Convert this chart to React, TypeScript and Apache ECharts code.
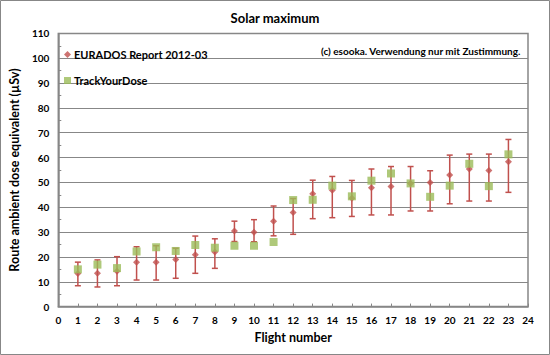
import React, { useEffect, useRef } from "react";
import * as echarts from "echarts";

const flights = [1, 2, 3, 4, 5, 6, 7, 8, 9, 10, 11, 12, 13, 14, 15, 16, 17, 18, 19, 20, 21, 22, 23];
const eurados = [13.3, 13.4, 14.2, 17.9, 17.9, 19.0, 20.9, 22.0, 30.4, 29.9, 34.4, 37.9, 45.4, 46.8, 43.6, 47.9, 48.4, 49.6, 50.0, 53.0, 55.4, 54.8, 58.3];
const euradosLow = [8.4, 7.9, 8.4, 10.7, 10.7, 11.4, 13.4, 15.4, 26.2, 26.1, 28.5, 29.1, 35.4, 35.8, 36.3, 36.9, 36.9, 38.5, 38.5, 41.4, 42.5, 42.5, 46.0];
const euradosHigh = [17.9, 18.8, 20.1, 24.1, 24.5, 23.5, 28.4, 27.3, 34.4, 35.0, 40.5, 43.5, 50.9, 52.4, 50.8, 55.4, 56.4, 56.4, 54.7, 61.0, 61.4, 61.4, 67.3];
const trackYourDose = [15.0, 16.9, 15.5, 22.2, 23.9, 22.4, 24.8, 23.7, 24.5, 24.5, 26.0, 42.9, 43.0, 48.7, 44.4, 50.7, 53.6, 49.6, 44.2, 48.7, 57.5, 48.5, 61.3];

const RED = "#C0504D";
const GREEN = "#9BBB59";
const GREY = "#878787";
const FONT = "Lato";

export default function App() {
  const ref = useRef<HTMLDivElement>(null);
  useEffect(() => {
    if (!ref.current) return;
    const chart = echarts.init(ref.current, null, { renderer: "svg" });
    const errData = flights.map((f, i) => [f, euradosLow[i], euradosHigh[i]]);
    chart.setOption({
      animation: false,
      backgroundColor: "#fff",
      textStyle: { fontFamily: FONT },
      title: {
        text: "Solar maximum",
        left: "center",
        top: 6,
        textStyle: { fontFamily: FONT, fontSize: 13, fontWeight: "bold", color: "#000" },
      },
      legend: {
        orient: "vertical",
        left: 59,
        top: 44,
        itemGap: 15,
        itemWidth: 7,
        itemHeight: 7,
        data: [
          { name: "EURADOS Report 2012-03", icon: "diamond" },
          { name: "TrackYourDose", icon: "rect" },
        ],
        textStyle: { fontFamily: FONT, fontSize: 11, fontWeight: "bold", color: "#000", padding: [0, 0, 0, -2] },
      },
      graphic: [
        {
          type: "rect",
          shape: { x: 0.5, y: 0.5, width: 549, height: 354 },
          style: { fill: "none", stroke: GREY, lineWidth: 1 },
          silent: true,
        },
        {
          type: "text",
          right: 29,
          top: 46,
          style: {
            text: "(c) esooka. Verwendung nur mit Zustimmung.",
            fontFamily: FONT,
            fontSize: 10,
            fontWeight: "bold",
            fill: "#000",
          },
        },
      ],
      grid: { left: 53, right: 22, top: 33.4, bottom: 48.4, show: true, borderColor: GREY, borderWidth: 1.5 },
      xAxis: {
        type: "value",
        min: 0,
        max: 24,
        interval: 1,
        name: "Flight number",
        nameLocation: "middle",
        nameGap: 24,
        nameTextStyle: { fontFamily: FONT, fontSize: 12.5, fontWeight: "bold", color: "#000" },
        axisLine: { lineStyle: { color: GREY, width: 1.5 } },
        axisTick: { inside: true, length: 3, lineStyle: { color: GREY } },
        axisLabel: { fontFamily: FONT, fontSize: 10, fontWeight: "bold", color: "#000", margin: 8 },
        splitLine: { show: false },
      },
      yAxis: {
        type: "value",
        min: 0,
        max: 110,
        interval: 10,
        name: "Route ambient dose equivalent (µSv)",
        nameLocation: "middle",
        nameGap: 31,
        nameTextStyle: { fontFamily: FONT, fontSize: 12.5, fontWeight: "bold", color: "#000" },
        axisLine: { show: true, lineStyle: { color: GREY, width: 1.5 } },
        axisTick: { show: true, inside: true, length: 3, lineStyle: { color: GREY } },
        minorTick: { show: true, splitNumber: 2, length: 3, lineStyle: { color: GREY } },
        axisLabel: { fontFamily: FONT, fontSize: 10, fontWeight: "bold", color: "#000", margin: 9 },
        splitLine: { show: true, lineStyle: { color: GREY, width: 1.2 } },
      },
      series: [
        {
          type: "custom",
          name: "err",
          data: errData,
          encode: { x: 0, y: [1, 2] },
          z: 1,
          renderItem: (params: any, api: any) => {
            const x = api.value(0);
            const p1 = api.coord([x, api.value(1)]);
            const p2 = api.coord([x, api.value(2)]);
            const w = 3;
            const st = { stroke: RED, lineWidth: 1.5 };
            return {
              type: "group",
              children: [
                { type: "line", shape: { x1: p1[0], y1: p1[1], x2: p2[0], y2: p2[1] }, style: st },
                { type: "line", shape: { x1: p1[0] - w, y1: p1[1], x2: p1[0] + w, y2: p1[1] }, style: st },
                { type: "line", shape: { x1: p2[0] - w, y1: p2[1], x2: p2[0] + w, y2: p2[1] }, style: st },
              ],
            };
          },
        },
        {
          type: "scatter",
          name: "EURADOS Report 2012-03",
          data: flights.map((f, i) => [f, eurados[i]]),
          symbol: "diamond",
          symbolSize: 7,
          itemStyle: { color: RED },
          z: 2,
        },
        {
          type: "scatter",
          name: "TrackYourDose",
          data: flights.map((f, i) => [f, trackYourDose[i]]),
          symbol: "rect",
          symbolSize: 8,
          itemStyle: { color: GREEN },
          z: 3,
        },
      ],
    });
    return () => chart.dispose();
  }, []);
  return <div ref={ref} style={{ width: 550, height: 355, position: "absolute", left: 0, top: 0 }} />;
}
